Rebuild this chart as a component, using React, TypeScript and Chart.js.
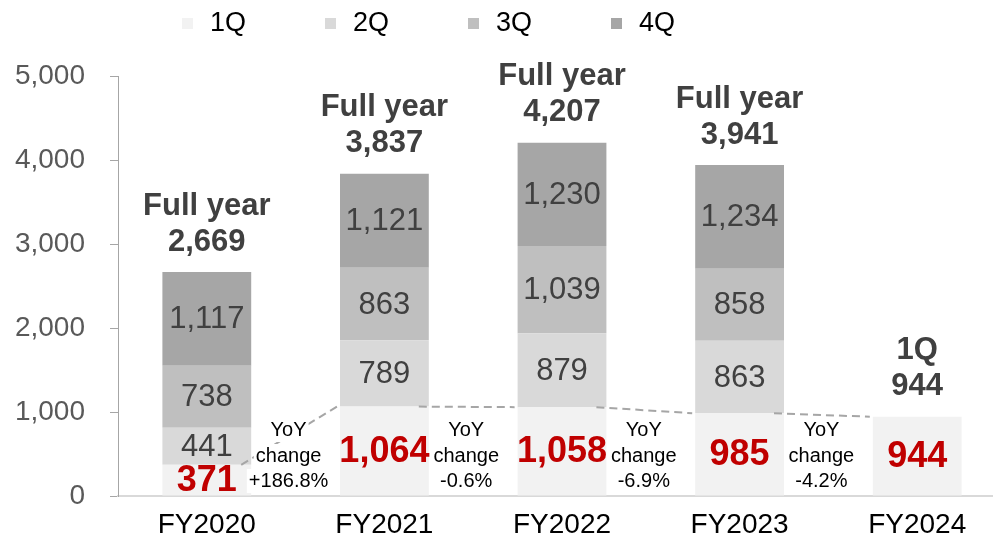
import React, { useEffect, useRef } from "react";
import { Chart, registerables } from "chart.js";
Chart.register(...registerables);

const categories = ["FY2020", "FY2021", "FY2022", "FY2023", "FY2024"];
const q1 = [371, 1064, 1058, 985, 944];
const q2 = [441, 789, 879, 863, null];
const q3 = [738, 863, 1039, 858, null];
const q4 = [1117, 1121, 1230, 1234, null];
const seriesNames = ["1Q", "2Q", "3Q", "4Q"];
const seriesColors = ["#f2f2f2", "#d9d9d9", "#bfbfbf", "#a6a6a6"];
const headerLabels = ["Full year", "Full year", "Full year", "Full year", "1Q"];
const totalLabels = ["2,669", "3,837", "4,207", "3,941", "944"];
const yoyLabels = ["+186.8%", "-0.6%", "-6.9%", "-4.2%"];
const yMin = 0;
const yMax = 5000;
const yStep = 1000;

const FONT = "'Liberation Sans', Arial, sans-serif";
const fmt = (v: number) => v.toLocaleString("en-US");

const labelPlugin = {
  id: "customLabels",
  afterDatasetsDraw(chart: any) {
    const ctx = chart.ctx;
    const yScale = chart.scales.y;
    const metas = [0, 1, 2, 3].map((d) => chart.getDatasetMeta(d));
    const n = categories.length;
    ctx.save();

    // dashed connectors between 1Q tops
    ctx.strokeStyle = "#a6a6a6";
    ctx.lineWidth = 2;
    ctx.setLineDash([8, 5]);
    for (let i = 0; i < n - 1; i++) {
      const a = metas[0].data[i];
      const b = metas[0].data[i + 1];
      ctx.beginPath();
      ctx.moveTo(a.x + a.width / 2 - 10, a.y);
      ctx.lineTo(b.x - b.width / 2 - 3, b.y);
      ctx.stroke();
    }
    ctx.setLineDash([]);

    // YoY texts
    ctx.font = `20px ${FONT}`;
    ctx.textAlign = "center";
    ctx.textBaseline = "middle";
    for (let i = 0; i < n - 1; i++) {
      const a = metas[0].data[i];
      const b = metas[0].data[i + 1];
      const cx = (a.x + a.width / 2 + b.x - b.width / 2) / 2 - 7;
      const lines = ["YoY", "change", yoyLabels[i]];
      const offs = [66, 40, 15];
      lines.forEach((t, k) => {
        const cy = yScale.bottom - offs[k];
        const w = ctx.measureText(t).width;
        ctx.fillStyle = "#ffffff";
        ctx.fillRect(cx - w / 2 - 2, cy - 12, w + 4, 24);
      });
      lines.forEach((t, k) => {
        const cy = yScale.bottom - offs[k];
        ctx.fillStyle = "#000000";
        ctx.fillText(t, cx, cy);
      });
    }

    // segment labels
    const series = [q1, q2, q3, q4];
    for (let i = 0; i < n; i++) {
      for (let d = 0; d < 4; d++) {
        const v = series[d][i];
        if (v == null) continue;
        const el = metas[d].data[i];
        const cy = (el.y + el.base) / 2;
        if (d === 0) {
          ctx.font = `bold 36px ${FONT}`;
          ctx.fillStyle = "#c00000";
        } else {
          ctx.font = `31px ${FONT}`;
          ctx.fillStyle = "#404040";
        }
        ctx.fillText(fmt(v as number), el.x, cy + 1);
      }
      // totals
      let sum = 0;
      series.forEach((s) => (sum += (s[i] as number) || 0));
      const top = yScale.getPixelForValue(sum);
      const x = metas[0].data[i].x;
      ctx.font = `bold 31px ${FONT}`;
      ctx.fillStyle = "#404040";
      ctx.fillText(totalLabels[i], x, top - 30);
      ctx.fillText(headerLabels[i], x, top - 66);
    }
    ctx.restore();
  },
  afterDraw(chart: any) {
    const ctx = chart.ctx;
    ctx.save();
    ctx.textBaseline = "middle";
    ctx.textAlign = "left";
    ctx.font = `27px ${FONT}`;
    chart.data.datasets.forEach((ds: any, i: number) => {
      const bx = 182 + i * 143;
      ctx.fillStyle = ds.backgroundColor;
      ctx.fillRect(bx, 18, 11, 11);
      ctx.fillStyle = "#000000";
      ctx.fillText(ds.label, bx + 28, 24);
    });
    ctx.restore();
  },
};

export default function App() {
  const ref = useRef<HTMLCanvasElement | null>(null);
  useEffect(() => {
    if (!ref.current) return;
    const series = [q1, q2, q3, q4];
    const chart = new Chart(ref.current, {
      type: "bar",
      data: {
        labels: categories,
        datasets: series.map((s, i) => ({
          label: seriesNames[i],
          data: s,
          backgroundColor: seriesColors[i],
          borderWidth: 0,
          categoryPercentage: 1,
          barPercentage: 0.5,
        })),
      },
      options: {
        responsive: false,
        animation: false,
        devicePixelRatio: 1,
        layout: { padding: { top: 76, right: 4, left: 0, bottom: 0 } },
        plugins: {
          legend: { display: false },
          tooltip: { enabled: false },
        },
        scales: {
          x: {
            stacked: true,
            grid: { display: false, drawTicks: false },
            border: { display: true, color: "#d9d9d9", width: 2 },
            ticks: {
              color: "#000000",
              font: { family: FONT, size: 28 },
              padding: 12,
            },
            afterFit(scale: any) {
              scale.height = 43;
            },
          },
          y: {
            stacked: true,
            min: yMin,
            max: yMax,
            ticks: {
              stepSize: yStep,
              color: "#595959",
              font: { family: FONT, size: 28 },
              padding: 25,
              callback: (v: any) => fmt(Number(v)),
            },
            grid: {
              drawOnChartArea: false,
              drawTicks: true,
              tickLength: 8,
              color: "#a6a6a6",
            },
            border: { display: true, color: "#a6a6a6", width: 1 },
            afterFit(scale: any) {
              scale.width = 118;
            },
          },
        },
      },
      plugins: [labelPlugin],
    });
    return () => chart.destroy();
  }, []);
  return (
    <div
      style={{
        position: "fixed",
        left: 0,
        top: 0,
        width: 993,
        height: 539,
        overflow: "hidden",
        background: "#ffffff",
      }}
    >
      <canvas ref={ref} width={1010} height={539} style={{ display: "block" }} />
    </div>
  );
}
